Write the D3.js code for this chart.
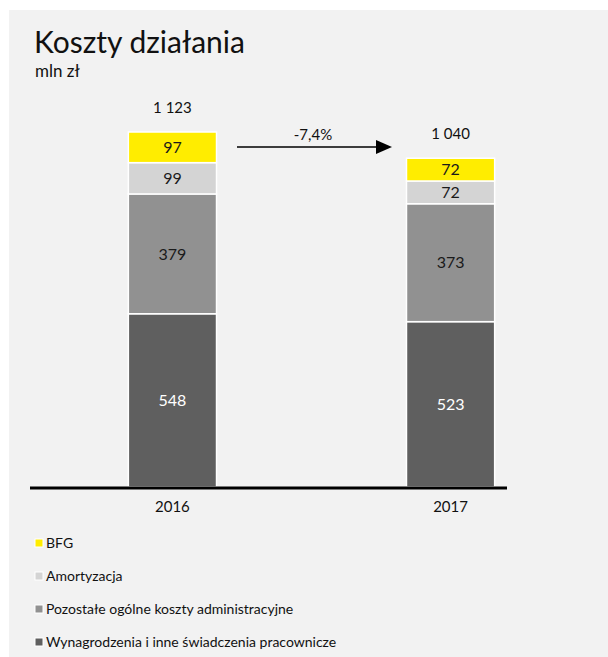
<!DOCTYPE html>
<html>
<head>
<meta charset="utf-8">
<script src="https://cdn.jsdelivr.net/npm/d3@7"></script>
<style>
  body { margin: 0; background: #ffffff; }
  svg { display: block; }
</style>
</head>
<body>
<div id="vis"></div>
<script>
// chart data
const years = ["2016", "2017"];
const seriesNames = ["Wynagrodzenia i inne świadczenia pracownicze", "Pozostałe ogólne koszty administracyjne", "Amortyzacja", "BFG"];
const salaries = [548, 523];
const adminCosts = [379, 373];
const depreciation = [99, 72];
const bfg = [97, 72];
const totalLabels = ["1 123", "1 040"];
const changeLabel = "-7,4%";

const colors = ["#5f5f5f", "#919191", "#d4d4d4", "#ffed00"];
const textColors = ["#ffffff", "#1a1a1a", "#1a1a1a", "#1a1a1a"];
const font = "Lato, 'Open Sans', sans-serif";

var W = 608, H = 657;
var svg = d3.select("#vis").append("svg")
    .attr("width", W)
    .attr("height", H)
    .style("font-family", font);

// grey panel
svg.append("rect")
    .attr("x", 9).attr("y", 10)
    .attr("width", W - 9).attr("height", H - 10)
    .attr("fill", "#f2f2f2");

svg.append("text")
    .attr("x", 34).attr("y", 53)
    .attr("font-size", 30)
    .attr("fill", "#111")
    .text("Koszty działania");

svg.append("text")
    .attr("x", 35).attr("y", 77)
    .attr("font-size", 17)
    .attr("fill", "#111")
    .text("mln zł");

// stacked layout
var table = years.map((y, i) => ({
  year: y, s0: salaries[i], s1: adminCosts[i], s2: depreciation[i], s3: bfg[i]
}));
var keys = ["s0", "s1", "s2", "s3"];
var stacked = d3.stack().keys(keys)(table);

var baseY = 487;
var y = d3.scaleLinear().domain([0, 1123]).range([baseY, 132]);
var x = d3.scaleBand().domain(years).range([120, 503]).paddingInner(0.683).paddingOuter(0.03);

var layers = svg.append("g").selectAll("g")
    .data(stacked)
    .enter().append("g");

layers.selectAll("rect")
    .data((d, k) => d.map(p => ({ p: p, k: k })))
    .enter().append("rect")
    .attr("x", d => x(d.p.data.year))
    .attr("y", d => y(d.p[1]))
    .attr("width", x.bandwidth())
    .attr("height", d => y(d.p[0]) - y(d.p[1]))
    .attr("fill", d => colors[d.k])
    .attr("stroke", "#ffffff")
    .attr("stroke-width", 1.5);

layers.selectAll("text")
    .data((d, k) => d.map(p => ({ p: p, k: k })))
    .enter().append("text")
    .attr("x", d => x(d.p.data.year) + x.bandwidth() / 2)
    .attr("y", d => (y(d.p[0]) + y(d.p[1])) / 2)
    .attr("dy", "0.36em")
    .attr("text-anchor", "middle")
    .attr("font-size", 16)
    .attr("fill", d => textColors[d.k])
    .text(d => d.p[1] - d.p[0]);

// totals
svg.append("g").selectAll("text")
    .data(table)
    .enter().append("text")
    .attr("x", d => x(d.year) + x.bandwidth() / 2)
    .attr("y", d => y(d.s0 + d.s1 + d.s2 + d.s3) - 19)
    .attr("text-anchor", "middle")
    .attr("font-size", 15)
    .attr("fill", "#111")
    .text((d, i) => totalLabels[i]);

// baseline
svg.append("line")
    .attr("x1", 30).attr("x2", 507)
    .attr("y1", baseY + 1).attr("y2", baseY + 1)
    .attr("stroke", "#000")
    .attr("stroke-width", 3);

// x axis labels
var xAxis = svg.append("g")
    .attr("transform", "translate(0," + (baseY + 2) + ")")
    .call(d3.axisBottom(x).tickSize(0).tickPadding(12));
xAxis.select(".domain").remove();
xAxis.selectAll("text")
    .attr("font-size", 15)
    .attr("font-family", font)
    .attr("fill", "#111");

// change arrow
var arrowY = 147;
svg.append("path")
    .attr("d", "M237," + arrowY + "H380")
    .attr("stroke", "#000")
    .attr("stroke-width", 1.5);
svg.append("path")
    .attr("d", "M376," + (arrowY - 7) + "L392," + arrowY + "L376," + (arrowY + 7) + "Z")
    .attr("fill", "#000");

svg.append("text")
    .attr("x", 313).attr("y", arrowY - 7)
    .attr("text-anchor", "middle")
    .attr("font-size", 15)
    .attr("fill", "#111")
    .text(changeLabel);

// legend (top to bottom: BFG first)
var legendOrder = [3, 2, 1, 0];
var legend = svg.append("g").selectAll("g")
    .data(legendOrder)
    .enter().append("g")
    .attr("transform", (d, i) => "translate(35," + (543 + i * 33) + ")");

legend.append("rect")
    .attr("x", 0).attr("y", -4)
    .attr("width", 8).attr("height", 8)
    .attr("fill", d => colors[d])
    .attr("stroke", "#ffffff")
    .attr("stroke-width", 1);

legend.append("text")
    .attr("x", 11).attr("y", 0)
    .attr("dy", "0.36em")
    .attr("font-size", 14)
    .attr("fill", "#111")
    .text(d => seriesNames[d]);
</script>
</body>
</html>
